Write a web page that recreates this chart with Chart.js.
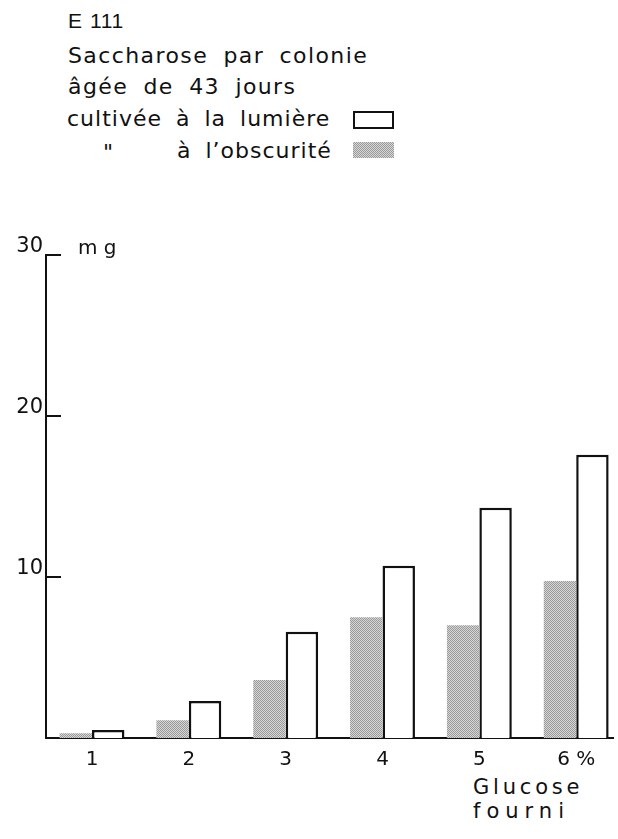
<!DOCTYPE html>
<html>
<head>
<meta charset="utf-8">
<script src="https://cdn.jsdelivr.net/npm/chart.js@4.4.1/dist/chart.umd.min.js"></script>
<style>
    html, body { margin: 0; padding: 0; background: #fff; }
    body { width: 618px; height: 839px; position: relative; overflow: hidden;
           font-family: "DejaVu Sans", sans-serif; color: #111; }
    .t { position: absolute; white-space: pre; font-size: 22px; line-height: 22px;
         letter-spacing: 1.4px; word-spacing: 7px; }
    .box { position: absolute; width: 37px; height: 15px; }
    #chartBox { position: absolute; left: 0; top: 220px; width: 618px; height: 619px; }
</style>
</head>
<body>
<div class="t" style="left:68px; top:10px; font-family:'Liberation Sans', sans-serif; font-size:21px; letter-spacing:0.6px; word-spacing:1px;">E 111</div>
<div class="t" style="left:68px; top:45px;">Saccharose par colonie</div>
<div class="t" style="left:68px; top:76px;">âgée de 43 jours</div>
<div class="t" style="left:67px; top:108px; letter-spacing:1.0px; word-spacing:6px;">cultivée à la lumière</div>
<div class="box" style="left:353px; top:111px; border:2px solid #111; width:37px; height:14px;"></div>
<div class="t" style="left:103px; top:142px;">"</div>
<div class="t" style="left:177px; top:140px; letter-spacing:1.0px; word-spacing:6px;">à l’obscurité</div>
<div class="box" style="left:353px; top:142px; height:16px; width:41px;
     background: repeating-conic-gradient(#9a9a9a 0 25%, #d6d6d6 0 50%) 0 0/2px 2px;"></div>
<div class="t" style="left:473px; top:776px; font-size:21px; letter-spacing:3.8px;">Glucose</div>
<div class="t" style="left:473px; top:800px; font-size:21px; letter-spacing:6.0px;">fourni</div>

<div id="chartBox"><canvas id="sucroseChart"></canvas></div>

<script>
// Glucose fourni (%) and sucrose per colony (mg)
const categories = [1, 2, 3, 4, 5, 6];
const tickLabels = ['1', '2', '3', '4', '5', '6 %'];
const lumiere = [0.5, 2.3, 6.6, 10.7, 14.3, 17.6];
const obscurite = [0.3, 1.1, 3.6, 7.5, 7.0, 9.75];
const yTicks = [10, 20, 30];

// halftone grey fill like the printed screen
function makeGreyPattern() {
    const c = document.createElement('canvas');
    c.width = 2;
    c.height = 2;
    const g = c.getContext('2d');
    g.fillStyle = '#d6d6d6';
    g.fillRect(0, 0, 2, 2);
    g.fillStyle = '#9a9a9a';
    g.fillRect(0, 0, 1, 1);
    g.fillRect(1, 1, 1, 1);
    return g.createPattern(c, 'repeat');
}

// short tick marks drawn inside the axis, plus the unit
const innerTicks = {
    id: 'innerTicks',
    afterDraw(chart) {
        const ctx = chart.ctx;
        const y = chart.scales.y;
        const left = chart.chartArea.left;
        ctx.save();
        ctx.strokeStyle = '#111';
        ctx.lineWidth = 2;
        yTicks.forEach(v => {
            const py = y.getPixelForValue(v);
            ctx.beginPath();
            ctx.moveTo(left, py);
            ctx.lineTo(left + 15, py);
            ctx.stroke();
        });
        ctx.fillStyle = '#111';
        ctx.font = '20px "DejaVu Sans"';
        ctx.textBaseline = 'alphabetic';
        ctx.fillText('m g', left + 32, y.getPixelForValue(30) - 1);
        ctx.restore();
    }
};

function createChart() {
    const ctx = document.getElementById('sucroseChart').getContext('2d');
    new Chart(ctx, {
        type: 'bar',
        data: {
            datasets: [
                {
                    label: 'à l’obscurité',
                    data: categories.map((c, i) => ({ x: c, y: obscurite[i] })),
                    backgroundColor: makeGreyPattern(),
                    borderWidth: 0,
                },
                {
                    label: 'cultivée à la lumière',
                    data: categories.map((c, i) => ({ x: c, y: lumiere[i] })),
                    backgroundColor: '#fff',
                    borderColor: '#111',
                    borderWidth: 2.5,
                }
            ]
        },
        options: {
            responsive: true,
            maintainAspectRatio: false,
            animation: false,
            datasets: { bar: { categoryPercentage: 0.67, barPercentage: 1.0 } },
            layout: { padding: { top: 35, right: 5, left: 0, bottom: 0 } },
            plugins: { legend: { display: false }, tooltip: { enabled: false } },
            scales: {
                x: {
                    type: 'linear',
                    offset: false,
                    min: 0.525,
                    max: 6.38,
                    grid: { display: false, drawTicks: false },
                    border: { display: true, color: '#111', width: 2 },
                    afterBuildTicks: s => { s.ticks = categories.map(v => ({ value: v })); },
                    afterFit: s => { s.height = 101; },
                    ticks: {
                        color: '#111',
                        padding: 10,
                        maxRotation: 0,
                        font: { family: 'DejaVu Sans', size: 20 },
                        callback: (v, i) => tickLabels[i]
                    }
                },
                y: {
                    min: 0,
                    max: 30,
                    grid: { display: false, drawTicks: false },
                    border: { display: true, color: '#111', width: 2 },
                    afterBuildTicks: s => { s.ticks = yTicks.map(v => ({ value: v })); },
                    afterFit: s => { s.width = 46; },
                    ticks: {
                        color: '#111',
                        padding: 3,
                        labelOffset: -8,
                        font: { family: 'DejaVu Sans', size: 21 }
                    }
                }
            }
        },
        plugins: [innerTicks]
    });
}

document.addEventListener('DOMContentLoaded', createChart);
</script>
</body>
</html>
